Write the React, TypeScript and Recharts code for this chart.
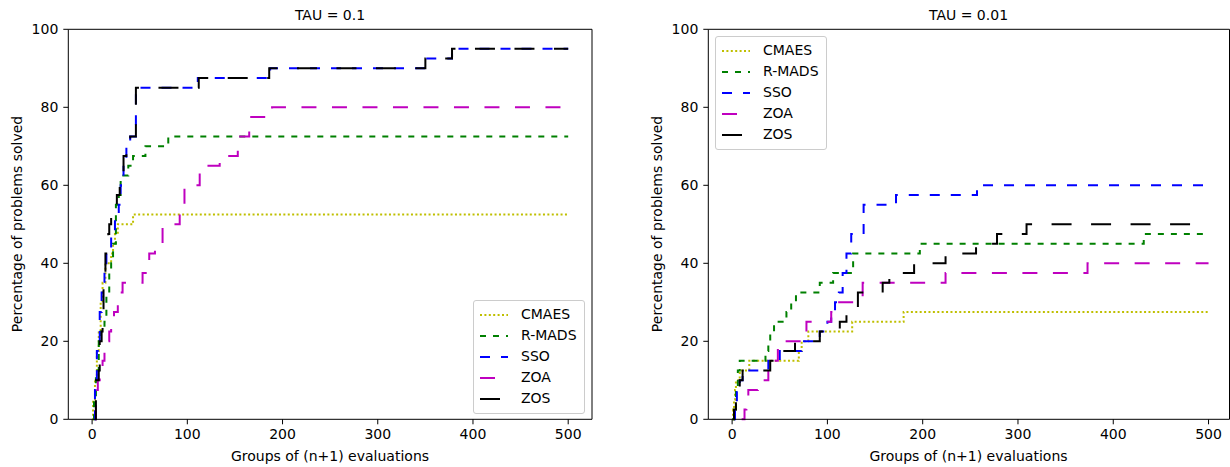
import React from 'react';
import { LineChart, Line, XAxis, YAxis, Legend, ReferenceLine } from 'recharts';

const FONT = '"DejaVu Sans", Verdana, sans-serif';
const FS = 14;

type Pt = [number, number];

// TAU = 0.1 panel
const L_CMAES: Pt[] = [[0, 0], [1, 5], [3, 10], [5, 17.5], [7, 22.5], [9, 30], [11, 35], [14, 40], [20, 42.5], [22, 45], [24, 47.5], [27, 50], [43, 52.5], [500, 52.5]];
const L_RMADS: Pt[] = [[1, 0], [2, 5], [4, 12.5], [7, 20], [9, 22.5], [13, 25], [15, 32.5], [18, 37.5], [20, 40], [22, 45], [25, 55], [28, 57.5], [30, 62.5], [38, 65], [43, 67.5], [56, 70], [80, 72.5], [500, 72.5]];
const L_SSO: Pt[] = [[2, 0], [3, 7.5], [5, 17.5], [8, 27.5], [10, 32.5], [13, 40], [15, 42.5], [20, 47.5], [24, 52.5], [28, 55], [30, 60], [33, 65], [36, 70], [40, 72.5], [46, 85], [111, 87.5], [187, 90], [350, 92.5], [378, 95], [500, 95]];
const L_ZOA: Pt[] = [[3, 0], [4, 7.5], [6, 10], [8, 12.5], [11, 15], [13, 17.5], [16, 20], [18, 22.5], [20, 25], [23, 27.5], [27, 30], [30, 32.5], [32, 35], [53, 37.5], [60, 42.5], [66, 45], [74, 50], [92, 55], [97, 60], [113, 65], [134, 67.5], [153, 72.5], [165, 77.5], [189, 80], [500, 80]];
const L_ZOS: Pt[] = [[3, 0], [4, 10], [7, 12.5], [8, 20], [10, 22.5], [11, 27.5], [12, 35], [14, 42.5], [17, 47.5], [18, 50], [20, 52.5], [26, 57.5], [29, 60], [33, 67.5], [36, 70], [40, 72.5], [46, 85], [112, 87.5], [186, 90], [350, 92.5], [378, 95], [500, 95]];

// TAU = 0.01 panel
const R_CMAES: Pt[] = [[0, 0], [1, 2.5], [2, 5], [3, 7.5], [4, 10], [8, 12.5], [18, 15], [70, 17.5], [73, 20], [80, 22.5], [126, 25], [180, 27.5], [500, 27.5]];
const R_RMADS: Pt[] = [[0, 0], [2, 2.5], [4, 7.5], [6, 12.5], [8, 15], [35, 17.5], [38, 20], [40, 22.5], [44, 25], [57, 27.5], [62, 30], [67, 32.5], [92, 35], [106, 37.5], [127, 42.5], [197, 45], [432, 47.5], [500, 47.5]];
const R_SSO: Pt[] = [[2, 0], [3, 2.5], [5, 7.5], [8, 10], [11, 12.5], [38, 15], [50, 17.5], [73, 20], [92, 22.5], [100, 25], [104, 27.5], [108, 30], [112, 32.5], [116, 37.5], [120, 42.5], [125, 47.5], [138, 55], [172, 57.5], [257, 60], [500, 60]];
const R_ZOA: Pt[] = [[10, 0], [13, 2.5], [15, 5], [17, 7.5], [27, 10], [38, 15], [48, 20], [78, 25], [104, 27.5], [110, 30], [137, 35], [224, 37.5], [373, 40], [500, 40]];
const R_ZOS: Pt[] = [[1, 0], [2, 2.5], [4, 5], [6, 7.5], [8, 10], [11, 12.5], [40, 15], [50, 17.5], [66, 20], [92, 22.5], [113, 25], [120, 27.5], [132, 32.5], [158, 35], [165, 37.5], [191, 40], [224, 42.5], [256, 45], [278, 47.5], [309, 50], [500, 50]];

const X_TICKS = [0, 100, 200, 300, 400, 500];
const Y_TICKS = [0, 20, 40, 60, 80, 100];

const SERIES_NAMES = ['CMAES', 'R-MADS', 'SSO', 'ZOA', 'ZOS'];
const SERIES_COLORS = ['#bfbf00', '#008000', '#0000ff', '#bf00bf', '#000000'];
const SERIES_DASH = ['2 2.4', '6 7', '10 11', '15 15.5', '20 19.5'];

const toRows = (pts: Pt[]) => pts.map(([x, y]) => ({ x, y }));

const LegendBox = () => (
  <div
    style={{
      background: 'rgba(255,255,255,0.8)',
      border: '1px solid #cccccc',
      borderRadius: 3,
      padding: '3px 6px 4px 6px',
      fontFamily: FONT,
      fontSize: FS,
      color: '#000',
      width: 98,
    }}
  >
    {SERIES_NAMES.map((n, i) => (
      <div key={n} style={{ display: 'flex', alignItems: 'center', height: 21 }}>
        <svg width={28} height={10} style={{ display: 'block' }}>
          <line x1={0} y1={5} x2={28} y2={5} stroke={SERIES_COLORS[i]} strokeWidth={2} strokeDasharray={SERIES_DASH[i]} />
        </svg>
        <span style={{ marginLeft: 13, lineHeight: '21px' }}>{n}</span>
      </div>
    ))}
  </div>
);

type PanelProps = {
  series: Pt[][];
  width: number;
  marginRight: number;
  xMax: number;
  legendLeft: number;
  legendTop: number;
};

const Panel = ({ series, width, marginRight, xMax, legendLeft, legendTop }: PanelProps) => (
  <LineChart width={width} height={467} margin={{ top: 29.3, right: marginRight, bottom: 17.7, left: 18.3 }}>
    <XAxis
      dataKey="x"
      type="number"
      domain={[-25, xMax]}
      ticks={X_TICKS}
      allowDataOverflow
      height={30}
      tickSize={5}
      tickMargin={5}
      stroke="#000"
      tick={{ fill: '#000', fontSize: FS, fontFamily: FONT }}
      tickLine={{ stroke: '#000' }}
    />
    <YAxis
      type="number"
      domain={[0, 100]}
      ticks={Y_TICKS}
      width={50}
      tickSize={5}
      tickMargin={5}
      stroke="#000"
      tick={{ fill: '#000', fontSize: FS, fontFamily: FONT }}
      tickLine={{ stroke: '#000' }}
    />
    <ReferenceLine y={100} stroke="#000" strokeWidth={1} ifOverflow="extendDomain" />
    <ReferenceLine x={xMax} stroke="#000" strokeWidth={1} ifOverflow="extendDomain" />
    {series.map((pts, i) => (
      <Line
        key={SERIES_NAMES[i]}
        name={SERIES_NAMES[i]}
        data={toRows(pts)}
        dataKey="y"
        type="stepAfter"
        stroke={SERIES_COLORS[i]}
        strokeWidth={2}
        strokeDasharray={SERIES_DASH[i]}
        dot={false}
        activeDot={false}
        isAnimationActive={false}
      />
    ))}
    <Legend
      layout="vertical"
      align="center"
      verticalAlign="middle"
      content={() => <LegendBox />}
      wrapperStyle={{ position: 'absolute', left: legendLeft, top: legendTop, width: 'auto', height: 'auto', margin: 0 }}
    />
  </LineChart>
);

export default function App() {
  return (
    <div style={{ position: 'absolute', left: 0, top: 0, width: 1230, height: 467, background: '#fff', overflow: 'hidden', fontFamily: FONT }}>
      <div style={{ position: 'absolute', left: 0, top: 0 }}>
        <Panel series={[L_CMAES, L_RMADS, L_SSO, L_ZOA, L_ZOS]} width={600} marginRight={8} xMax={525} legendLeft={473} legendTop={300} />
      </div>
      <div style={{ position: 'absolute', left: 640, top: 0 }}>
        <Panel series={[R_CMAES, R_RMADS, R_SSO, R_ZOA, R_ZOS]} width={590} marginRight={0.5} xMax={522} legendLeft={75} legendTop={36} />
      </div>
      <svg width={1230} height={467} style={{ position: 'absolute', left: 0, top: 0, pointerEvents: 'none' }}>
        <g fontFamily={FONT} fontSize={FS} fill="#000">
          <text x={330} y={20} textAnchor="middle">TAU = 0.1</text>
          <text x={968.5} y={20} textAnchor="middle">TAU = 0.01</text>
          <text x={330} y={461} textAnchor="middle">Groups of (n+1) evaluations</text>
          <text x={968.5} y={461} textAnchor="middle">Groups of (n+1) evaluations</text>
          <text transform="translate(22,224) rotate(-90)" textAnchor="middle">Percentage of problems solved</text>
          <text transform="translate(662,224) rotate(-90)" textAnchor="middle">Percentage of problems solved</text>
        </g>
      </svg>
    </div>
  );
}
